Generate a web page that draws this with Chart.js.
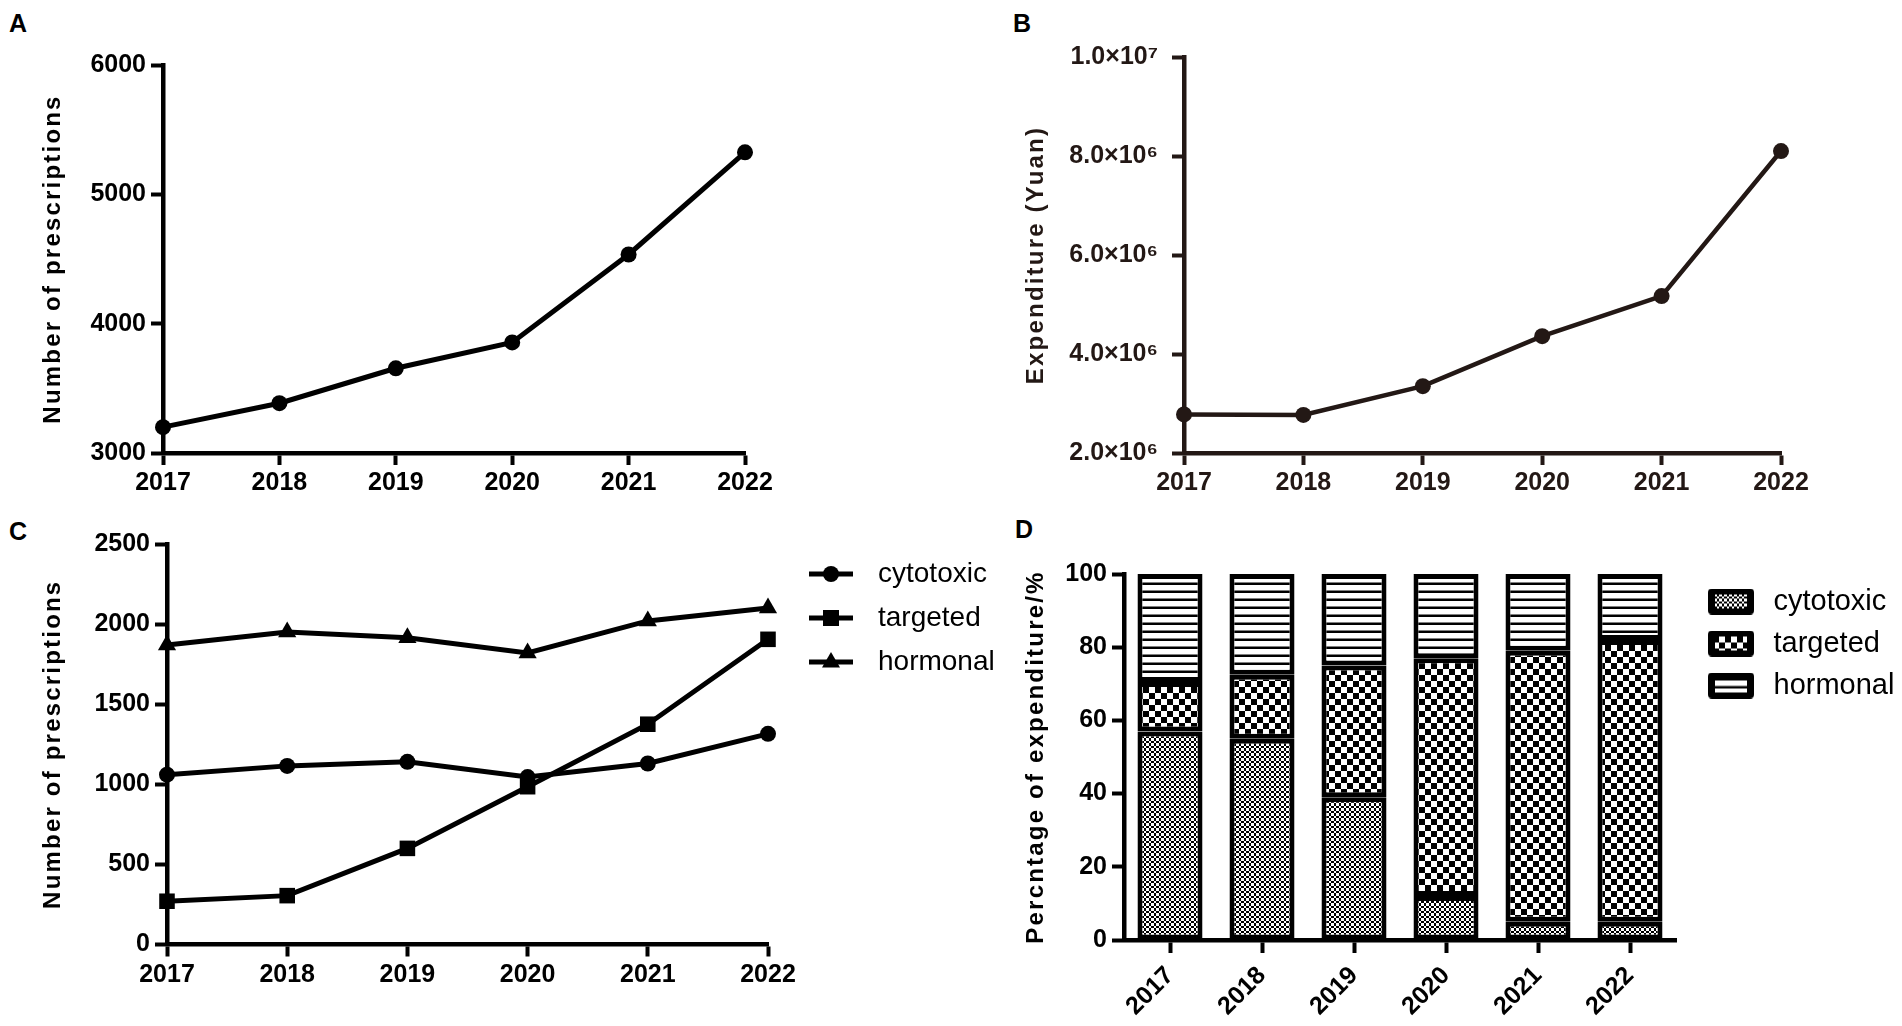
<!DOCTYPE html>
<html>
<head>
<meta charset="utf-8">
<script src="https://cdn.jsdelivr.net/npm/chart.js@4.4.1/dist/chart.umd.min.js"></script>
<style>
html, body { margin: 0; padding: 0; background: #fff; }
body { width: 1902px; height: 1026px; position: relative; overflow: hidden; }
.panel { position: absolute; }
.tag { position: absolute; font: bold 25px "Liberation Sans", Arial, sans-serif; line-height: 1; color: #000; }
</style>
</head>
<body>
<div class="tag" style="left:9px;top:11px">A</div>
<div class="tag" style="left:1013px;top:11px">B</div>
<div class="tag" style="left:9px;top:519px">C</div>
<div class="tag" style="left:1015px;top:517px">D</div>

<div class="panel" style="left:0;top:0;width:800px;height:513px"><canvas id="chartA"></canvas></div>
<div class="panel" style="left:951px;top:0;width:951px;height:513px"><canvas id="chartB"></canvas></div>
<div class="panel" style="left:0;top:513px;width:998px;height:513px"><canvas id="chartC"></canvas></div>
<div class="panel" style="left:951px;top:513px;width:951px;height:513px"><canvas id="chartD"></canvas></div>

<script>
// data
const years = ['2017', '2018', '2019', '2020', '2021', '2022'];
const totalPrescriptions = [3200, 3385, 3655, 3855, 4535, 5325];
const totalExpenditure = [2.78e6, 2.77e6, 3.35e6, 4.36e6, 5.17e6, 8.10e6];
const cytotoxicRx = [1060, 1115, 1140, 1045, 1130, 1315];
const targetedRx = [270, 305, 600, 985, 1375, 1905];
const hormonalRx = [1870, 1950, 1915, 1820, 2020, 2100];
const cytotoxicPct = [57, 55, 39, 12, 5, 5];
const targetedPct = [13.5, 17.5, 36, 65, 74, 77];
const hormonalPct = [29.5, 27.5, 25, 23, 21, 18];
const groupNames = ['cytotoxic', 'targeted', 'hormonal'];

const FONT = '"Liberation Sans", Arial, sans-serif';
const tickFont = { family: FONT, size: 25, weight: 'bold' };
const titleFont = { family: FONT, size: 24, weight: 'bold' };

Chart.defaults.animation = false;
Chart.defaults.events = [];
Chart.defaults.color = '#000';
Chart.defaults.plugins.legend.display = false;
Chart.defaults.plugins.tooltip.enabled = false;

// axis titles in the figure are letter-spaced
const spacedTitles = {
  id: 'spacedTitles',
  beforeDraw(chart) {
    Object.values(chart.scales).forEach(s => {
      if (s._spaced) return;
      const orig = s.drawTitle.bind(s);
      s.drawTitle = function () {
        const c = this.ctx;
        c.save();
        c.letterSpacing = '2.2px';
        orig();
        c.restore();
      };
      s._spaced = true;
    });
  }
};
Chart.register(spacedTitles);

// plain numbers, no thousands separator
const plain = v => String(v);

function axis(color, extra) {
  const ax = {
    border: { display: true, color: color, width: 4.5 },
    grid: { display: true, drawOnChartArea: false, drawTicks: true, tickLength: 12, tickWidth: 4, tickColor: color },
    ticks: { color: color, font: tickFont, padding: 5, autoSkip: false, maxRotation: 0 }
  };
  return Object.assign(ax, extra);
}

function yTitle(text, pad, color) {
  return { display: true, text: text, font: titleFont, color: color, padding: { top: pad, bottom: 0 } };
}

// A
const xA = axis('#000', { afterFit: s => { s.height = 60; } });
xA.ticks.padding = 3;
const yA = axis('#000', { min: 3000, max: 6000, title: yTitle('Number of prescriptions', 38.6, '#000'),
  afterFit: s => { s.width = 163; } });
yA.ticks.stepSize = 1000;
yA.ticks.callback = plain;
new Chart(document.getElementById('chartA'), {
  type: 'line',
  data: {
    labels: years,
    datasets: [{ data: totalPrescriptions, borderColor: '#000', borderWidth: 5, pointRadius: 8,
      pointBackgroundColor: '#000', pointBorderWidth: 0, tension: 0, clip: false }]
  },
  options: {
    responsive: true, maintainAspectRatio: false,
    layout: { padding: { top: 65, right: 55, left: 0, bottom: 0 } },
    scales: { x: xA, y: yA }
  }
});

// B
const sup = { '0': '\u2070', '1': '\u00b9', '2': '\u00b2', '3': '\u00b3', '4': '\u2074', '5': '\u2075', '6': '\u2076', '7': '\u2077', '8': '\u2078', '9': '\u2079' };
function sciLabel(v) {
  const e = Math.floor(Math.log10(v) + 1e-9);
  const m = v / Math.pow(10, e);
  return m.toFixed(1) + '\u00d710' + String(e).split('').map(d => sup[d]).join('');
}
const brown = '#231815';
const yB = axis(brown, { min: 2e6, max: 1e7, title: yTitle('Expenditure (Yuan)', 70.6, brown),
  afterFit: s => { s.width = 233; } });
yB.ticks.stepSize = 2e6;
yB.ticks.padding = 14;
yB.ticks.callback = v => sciLabel(v);
const xB = axis(brown, { afterFit: s => { s.height = 60; } });
xB.ticks.padding = 3;
new Chart(document.getElementById('chartB'), {
  type: 'line',
  data: {
    labels: years,
    datasets: [{ data: totalExpenditure, borderColor: brown, borderWidth: 4.5, pointRadius: 8,
      pointBackgroundColor: brown, pointBorderWidth: 0, tension: 0, clip: false }]
  },
  options: {
    responsive: true, maintainAspectRatio: false,
    layout: { padding: { top: 57, right: 121, left: 0, bottom: 0 } },
    scales: { x: xB, y: yB }
  }
});

// C legend icons: line with marker
function lineIcon(style) {
  const c = document.createElement('canvas');
  c.width = 80; c.height = 26;
  const g = c.getContext('2d');
  g.strokeStyle = '#000'; g.lineWidth = 5;
  g.beginPath(); g.moveTo(25, 13); g.lineTo(69, 13); g.stroke();
  g.fillStyle = '#000';
  g.beginPath();
  if (style === 'circle') g.arc(47, 13, 8, 0, Math.PI * 2);
  else if (style === 'rect') g.rect(39, 5, 16, 16);
  else { g.moveTo(47, 3); g.lineTo(56, 18.5); g.lineTo(38, 18.5); g.closePath(); }
  g.fill();
  return c;
}
const markerStyles = ['circle', 'rect', 'triangle'];
const markerSizes = [8, 11, 10.5];
const lineIcons = markerStyles.map(lineIcon);

const xC = axis('#000', { afterFit: s => { s.height = 81.5; } });
xC.ticks.padding = 4;
const yC = axis('#000', { min: 0, max: 2500, title: yTitle('Number of prescriptions', 38.6, '#000'),
  afterFit: s => { s.width = 167; } });
yC.ticks.stepSize = 500;
yC.ticks.callback = plain;
new Chart(document.getElementById('chartC'), {
  type: 'line',
  data: {
    labels: years,
    datasets: [cytotoxicRx, targetedRx, hormonalRx].map((d, i) => ({
      label: groupNames[i], data: d, borderColor: '#000', borderWidth: 5,
      pointStyle: markerStyles[i], pointRadius: markerSizes[i],
      pointBackgroundColor: '#000', pointBorderWidth: 0, tension: 0, clip: false
    }))
  },
  options: {
    responsive: true, maintainAspectRatio: false,
    layout: { padding: { top: 31, right: 0, left: 0, bottom: 0 } },
    scales: { x: xC, y: yC },
    plugins: {
      legend: {
        display: true, position: 'right', align: 'start', fullSize: false, maxWidth: 230,
        labels: {
          usePointStyle: true, pointStyleWidth: 80, padding: 16,
          font: { family: FONT, size: 28 }, color: '#000',
          generateLabels: chart => chart.data.datasets.map((ds, i) => ({
            text: ds.label, pointStyle: lineIcons[i], fontColor: '#000',
            fillStyle: '#000', strokeStyle: '#000', lineWidth: 0, hidden: false, datasetIndex: i
          }))
        }
      }
    }
  }
});

// D fill patterns
function makePattern(kind) {
  const c = document.createElement('canvas');
  if (kind === 'fine') {
    c.width = 10; c.height = 10;
    const g = c.getContext('2d');
    g.fillStyle = '#000'; g.fillRect(0, 0, 10, 10);
    g.fillStyle = '#fff';
    const edges = [0, 3, 5, 8, 10];
    for (let i = 0; i < 4; i++) for (let j = 0; j < 4; j++) {
      if ((i + j) % 2 === 0) g.fillRect(edges[i], edges[j], edges[i + 1] - edges[i], edges[j + 1] - edges[j]);
    }
    return g.createPattern(c, 'repeat');
  }
  if (kind === 'checker') {
    c.width = 12; c.height = 12;
    const g = c.getContext('2d');
    g.fillStyle = '#000'; g.fillRect(0, 0, 12, 12);
    g.fillStyle = '#fff'; g.fillRect(0, 0, 6, 6); g.fillRect(6, 6, 6, 6);
    return g.createPattern(c, 'repeat');
  }
  c.width = 8; c.height = 8;
  const g = c.getContext('2d');
  g.fillStyle = '#fff'; g.fillRect(0, 0, 8, 8);
  g.fillStyle = '#000'; g.fillRect(0, 5.5, 8, 2.5);
  return g.createPattern(c, 'repeat');
}
const fills = [makePattern('fine'), makePattern('checker'), makePattern('stripes')];

function boxIcon(pattern) {
  const c = document.createElement('canvas');
  c.width = 70; c.height = 26;
  const g = c.getContext('2d');
  g.fillStyle = '#000';
  g.beginPath();
  if (g.roundRect) g.roundRect(19, 0, 46, 26, 4); else g.rect(19, 0, 46, 26);
  g.fill();
  g.fillStyle = pattern;
  g.fillRect(26, 6, 32, 14);
  return c;
}
const boxIcons = fills.map(boxIcon);

const xD = axis('#000', { afterFit: s => { s.height = 86; } });
xD.stacked = true;
xD.grid.offset = false;
xD.grid.tickLength = 13;
xD.ticks.minRotation = 45;
xD.ticks.maxRotation = 45;
xD.ticks.padding = 8;
const yD = axis('#000', { min: 0, max: 100, stacked: true, title: yTitle('Percntage of expenditure/%', 70.6, '#000'),
  afterFit: s => { s.width = 173; } });
yD.ticks.stepSize = 20;
yD.ticks.callback = plain;
new Chart(document.getElementById('chartD'), {
  type: 'bar',
  data: {
    labels: years,
    datasets: [cytotoxicPct, targetedPct, hormonalPct].map((d, i) => ({
      label: groupNames[i], data: d, backgroundColor: fills[i], borderColor: '#000',
      borderWidth: 5, borderSkipped: false, barPercentage: 0.707, categoryPercentage: 1
    }))
  },
  options: {
    responsive: true, maintainAspectRatio: false,
    layout: { padding: { top: 61, right: 0, left: 0, bottom: 0 } },
    scales: { x: xD, y: yD },
    plugins: {
      legend: {
        display: true, position: 'right', align: 'start', fullSize: false, maxWidth: 226,
        labels: {
          usePointStyle: true, pointStyleWidth: 70, padding: 13,
          font: { family: FONT, size: 29 }, color: '#000',
          generateLabels: chart => chart.data.datasets.map((ds, i) => ({
            text: ds.label, pointStyle: boxIcons[i], fontColor: '#000',
            fillStyle: '#000', strokeStyle: '#000', lineWidth: 0, hidden: false, datasetIndex: i
          }))
        }
      }
    }
  }
});
</script>
</body>
</html>
